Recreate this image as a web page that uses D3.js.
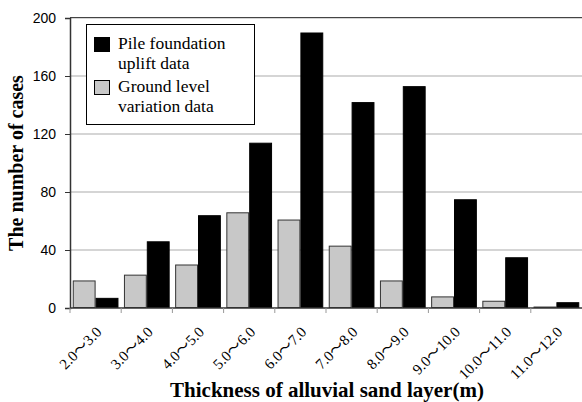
<!DOCTYPE html>
<html>
<head>
<meta charset="utf-8">
<script src="https://cdn.jsdelivr.net/npm/d3@7"></script>
<style>
  body { margin: 0; background: #fff; }
  svg { display: block; }
  .serif { font-family: 'Liberation Serif', 'DejaVu Serif', serif; }
  .xlab { font-family: 'Liberation Serif', 'Noto Sans CJK JP', serif; }
  .sans { font-family: 'Liberation Sans', Arial, sans-serif; }
</style>
</head>
<body>
<div id="vis"></div>
<script>
// data
var categories = ['2.0～3.0', '3.0～4.0', '4.0～5.0', '5.0～6.0', '6.0～7.0',
  '7.0～8.0', '8.0～9.0', '9.0～10.0', '10.0～11.0', '11.0～12.0'];
var groundLevel = [19, 23, 30, 66, 61, 43, 19, 8, 5, 1];
var pileUplift = [7, 46, 64, 114, 190, 142, 153, 75, 35, 4];
var yTicks = [0, 40, 80, 120, 160, 200];

var width = 582, height = 402;
var margin = { top: 18, left: 70, bottom: 94, right: 0 };
var w = width - margin.left - margin.right;
var h = height - margin.top - margin.bottom;

var svg = d3.select('#vis').append('svg')
  .attr('width', width)
  .attr('height', height);

var g = svg.append('g')
  .attr('transform', 'translate(' + margin.left + ',' + margin.top + ')');

var x = d3.scaleBand().domain(categories).range([0, w]);
var inner = d3.scaleBand().domain([0, 1]).range([0, x.bandwidth()])
  .paddingOuter(0.12).paddingInner(0);
var y = d3.scaleLinear().domain([0, 200]).range([h, 0]);

// gridlines
g.selectAll('.grid')
  .data(yTicks.slice(1))
  .enter().append('line')
  .attr('x1', 0).attr('x2', w)
  .attr('y1', function (d) { return y(d); })
  .attr('y2', function (d) { return y(d); })
  .attr('stroke', '#ababab')
  .attr('stroke-width', 1);

// top border line
g.append('line')
  .attr('x1', 0).attr('x2', w)
  .attr('y1', -0.5).attr('y2', -0.5)
  .attr('stroke', '#444');

// bars
var series = [
  { vals: groundLevel, fill: '#c8c8c8', stroke: '#333' },
  { vals: pileUplift, fill: '#000', stroke: '#000' }
];
series.forEach(function (s, si) {
  g.selectAll('.bar' + si)
    .data(s.vals)
    .enter().append('rect')
    .attr('x', function (d, i) { return x(categories[i]) + inner(si) + 0.5; })
    .attr('y', function (d) { return y(d) + 0.5; })
    .attr('width', inner.bandwidth() - 1)
    .attr('height', function (d) { return Math.max(0, h - y(d) - 1); })
    .attr('fill', s.fill)
    .attr('stroke', s.stroke)
    .attr('stroke-width', 1);
});

// y axis
var yAxis = g.append('g')
  .call(d3.axisLeft(y).tickValues(yTicks).tickSize(5).tickPadding(9));
yAxis.attr('font-family', null).attr('font-size', null);
yAxis.select('.domain').attr('stroke', '#333').attr('stroke-width', 1.5);
yAxis.selectAll('.tick line').attr('stroke', '#333');
yAxis.selectAll('text')
  .attr('class', 'sans')
  .style('font-size', '14px')
  .attr('fill', '#000');

// x axis (ticks at category boundaries)
var xAxis = g.append('g').attr('transform', 'translate(0,' + h + ')');
xAxis.append('line')
  .attr('x1', 0).attr('x2', w)
  .attr('stroke', '#333').attr('stroke-width', 1.5);
xAxis.selectAll('.xt')
  .data(categories)
  .enter().append('line')
  .attr('x1', function (d) { return x(d); })
  .attr('x2', function (d) { return x(d); })
  .attr('y1', 0).attr('y2', 5)
  .attr('stroke', '#999');
xAxis.selectAll('.xl')
  .data(categories)
  .enter().append('text')
  .attr('class', 'xlab')
  .attr('transform', function (d) {
    return 'translate(' + (x(d) + x.bandwidth() / 2 + 7) + ',25) rotate(-45)';
  })
  .attr('text-anchor', 'end')
  .style('font-size', '15px')
  .text(function (d) { return d; });

// axis titles
svg.append('text')
  .attr('class', 'serif')
  .attr('transform', 'translate(23,' + (margin.top + h / 2) + ') rotate(-90)')
  .attr('text-anchor', 'middle')
  .style('font-weight', 'bold')
  .style('font-size', '20px')
  .text('The number of cases');

svg.append('text')
  .attr('class', 'serif')
  .attr('x', 327)
  .attr('y', 397)
  .attr('text-anchor', 'middle')
  .style('font-weight', 'bold')
  .style('font-size', '21px')
  .text('Thickness of alluvial sand layer(m)');

// legend
var lg = svg.append('g').attr('transform', 'translate(86,24)');
lg.append('rect')
  .attr('x', 0.5).attr('y', 0.5)
  .attr('width', 168).attr('height', 100)
  .attr('fill', '#fff').attr('stroke', '#000');
var legendItems = [
  { lines: ['Pile foundation', 'uplift data'], fill: '#000', y: 13 },
  { lines: ['Ground level', 'variation data'], fill: '#c8c8c8', y: 56 }
];
legendItems.forEach(function (it) {
  lg.append('rect')
    .attr('x', 8.5).attr('y', it.y + 0.5)
    .attr('width', 15).attr('height', 14)
    .attr('fill', it.fill).attr('stroke', '#000');
  it.lines.forEach(function (t, k) {
    lg.append('text')
      .attr('class', 'serif')
      .attr('x', 32)
      .attr('y', it.y + 12 + k * 20)
      .style('font-size', '17.5px')
      .text(t);
  });
});
</script>
</body>
</html>
